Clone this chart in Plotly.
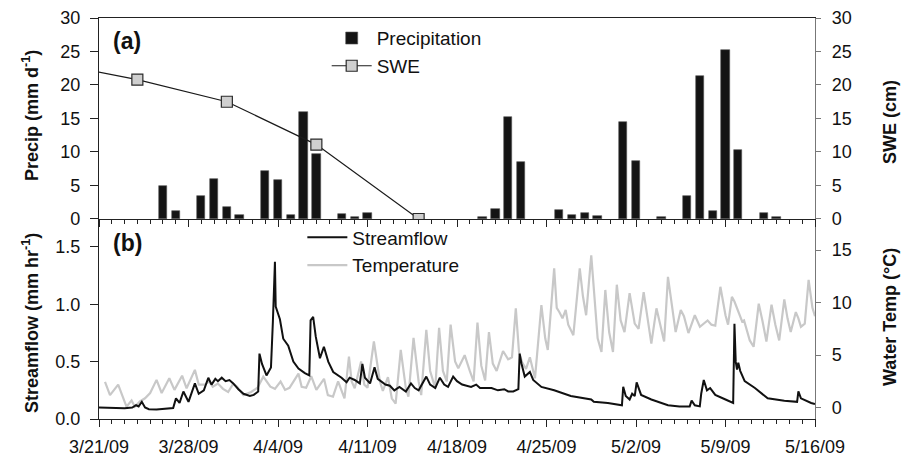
import pandas as pd
import plotly.graph_objects as go

# ---- data ----
precip_dates = ['2009-03-26', '2009-03-27', '2009-03-29', '2009-03-30', '2009-03-31', '2009-04-01',
                '2009-04-03', '2009-04-04', '2009-04-05', '2009-04-06', '2009-04-07', '2009-04-09',
                '2009-04-10', '2009-04-11', '2009-04-20', '2009-04-21', '2009-04-22', '2009-04-23',
                '2009-04-26', '2009-04-27', '2009-04-28', '2009-04-29', '2009-05-01', '2009-05-02',
                '2009-05-04', '2009-05-06', '2009-05-07', '2009-05-08', '2009-05-09', '2009-05-10',
                '2009-05-12', '2009-05-13']
precip_mm = [4.9, 1.15, 3.5, 5.9, 1.85, 0.55,
             7.1, 5.8, 0.65, 16.0, 9.7, 0.8,
             0.35, 0.95, 0.35, 1.45, 15.25, 8.45,
             1.3, 0.65, 0.95, 0.45, 14.5, 8.6,
             0.25, 3.4, 21.4, 1.15, 25.25, 10.35,
             0.9, 0.25]

swe_dates = ['2009-03-17', '2009-03-24', '2009-03-31', '2009-04-07', '2009-04-15']
swe_cm = [23.4, 20.8, 17.5, 11.1, 0.0]

# days after 3/21/09 00:00
flow_day = [0, 1.0, 2.0, 2.6, 2.9, 3.1, 3.35, 3.6, 3.9, 4.5, 5.3, 5.8, 6.02, 6.3, 6.6, 7.0, 7.5, 7.8,
            8.2, 8.55, 8.8, 9.1, 9.3, 9.6, 9.9, 10.2, 10.5, 10.9, 11.3, 11.8, 12.1, 12.45, 12.55,
            12.75, 13.1, 13.45, 13.6, 13.76, 13.82, 14.0, 14.15, 14.41, 14.8, 15.2, 15.6, 16.1,
            16.45, 16.55, 16.75, 16.95, 17.28, 17.59, 17.93, 18.32, 18.97, 19.36, 19.6, 20.0, 20.4,
            20.6, 20.8, 21.2, 21.55, 21.8, 22.4, 22.75, 23.1, 23.5, 24.0, 24.4, 24.7, 25.0, 25.6,
            25.9, 26.3, 26.66, 27.0, 27.3, 27.7, 28.0, 28.4, 29.1, 29.5, 29.8, 30.7, 31.2, 31.7,
            32.0, 32.4, 32.8, 32.9, 33.05, 33.3, 33.7, 33.96, 34.6, 35.6, 36.9, 37.5, 38.5, 38.7,
            39.8, 40.9, 41.0, 41.2, 41.5, 41.7, 41.9, 42.05, 42.4, 43.2, 44.5, 45.4, 46.2, 46.35,
            46.6, 46.99, 47.1, 47.3, 47.55, 47.8, 48.2, 49.0, 49.6, 49.7, 49.8, 49.9, 50.0, 50.15,
            50.5, 51.3, 52.3, 53.6, 54.6, 54.7, 54.9, 55.7, 56.0]
flow_mm_hr = [0.10, 0.097, 0.093, 0.10, 0.12, 0.11, 0.15, 0.10, 0.085, 0.083, 0.09, 0.095, 0.18, 0.14,
              0.24, 0.15, 0.31, 0.22, 0.25, 0.36, 0.30, 0.35, 0.33, 0.36, 0.33, 0.34, 0.31, 0.26,
              0.22, 0.20, 0.21, 0.24, 0.57, 0.48, 0.38, 0.45, 0.85, 1.37, 0.98, 0.92, 0.87, 0.70,
              0.64, 0.50, 0.44, 0.40, 0.38, 0.86, 0.89, 0.72, 0.53, 0.63, 0.50, 0.41, 0.36, 0.32,
              0.36, 0.34, 0.31, 0.48, 0.36, 0.31, 0.45, 0.35, 0.30, 0.29, 0.25, 0.28, 0.24, 0.31,
              0.27, 0.25, 0.37, 0.30, 0.27, 0.36, 0.30, 0.28, 0.37, 0.33, 0.30, 0.28, 0.30, 0.27,
              0.27, 0.25, 0.26, 0.24, 0.24, 0.26, 0.57, 0.48, 0.37, 0.41, 0.34, 0.28, 0.25, 0.20,
              0.19, 0.17, 0.15, 0.14, 0.12, 0.28, 0.20, 0.17, 0.22, 0.20, 0.32, 0.21, 0.17, 0.12,
              0.11, 0.11, 0.16, 0.12, 0.11, 0.22, 0.34, 0.25, 0.27, 0.21, 0.17, 0.14, 0.83, 0.50,
              0.43, 0.49, 0.42, 0.33, 0.27, 0.18, 0.16, 0.15, 0.24, 0.18, 0.14, 0.13]

temp_day = [0.47, 0.86, 1.5, 1.9, 2.15, 2.55, 2.8, 3.2, 3.6, 4.0, 4.5, 4.9, 5.5, 5.9, 6.5, 6.85, 7.5,
            7.8, 8.3, 8.6, 8.9, 9.3, 9.7, 10.1, 10.5, 10.8, 11.3, 11.9, 12.4, 12.85, 13.4, 13.76,
            14.2, 14.55, 14.9, 15.6, 15.85, 16.2, 16.6, 17.0, 17.6, 17.9, 18.3, 18.7, 19.2, 19.55,
            19.76, 20.0, 20.5, 20.75, 21.0, 21.5, 21.97, 22.2, 22.6, 22.9, 23.2, 23.6, 24.0, 24.2,
            24.6, 25.0, 25.2, 25.6, 25.9, 26.3, 26.6, 26.9, 27.2, 27.5, 27.85, 28.1, 28.6, 29.0,
            29.3, 29.6, 29.9, 30.2, 30.5, 30.8, 31.1, 31.6, 32.0, 32.3, 32.6, 32.85, 33.1, 33.4,
            33.7, 34.1, 34.6, 34.9, 35.1, 35.6, 35.8, 36.0, 36.25, 36.5, 36.7, 37.1, 37.6, 37.85,
            38.1, 38.5, 38.75, 39.0, 39.3, 39.6, 39.9, 40.2, 40.5, 40.8, 41.1, 41.5, 41.9, 42.2,
            42.6, 42.9, 43.2, 43.6, 43.9, 44.2, 44.5, 44.8, 45.1, 45.5, 45.75, 46.1, 46.6, 47.0,
            47.6, 47.9, 48.2, 48.6, 49.0, 49.2, 49.5, 49.7, 50.1, 50.3, 50.45, 50.9, 51.2, 51.6,
            51.9, 52.2, 52.6, 52.9, 53.2, 53.6, 53.85, 54.1, 54.5, 54.7, 54.9, 55.2, 55.5, 55.8, 56.0]
temp_c = [2.45, 1.2, 2.2, 0.9, 0.1, 0.7, 0.1, 0.6, 0.9, 1.4, 2.65, 1.4, 2.8, 1.7, 3.05, 1.85, 3.6,
          2.2, 2.2, 2.5, 2.0, 2.3, 1.8, 1.5, 2.3, 2.0, 1.2, 1.5, 1.9, 2.95, 2.0, 1.8,
          2.5, 1.7, 1.9, 3.25, 2.0, 1.9, 3.0, 1.7, 2.75, 1.2, 1.05, 2.5, 0.9, 4.85,
          2.5, 1.85, 4.4, 2.2, 1.9, 6.3, 2.5, 1.6, 2.9, 0.9, 0.4, 5.5, 1.85, 1.05,
          6.65, 2.5, 1.2, 7.4, 3.5, 1.85, 7.6, 3.5, 2.5, 7.9, 4.4, 3.75, 5.0, 3.5,
          2.5, 8.1, 4.0, 2.6, 7.2, 4.2, 3.5, 5.4, 4.6, 4.8, 9.45, 5.3, 4.3, 3.7,
          4.8, 2.8, 9.75, 6.6, 5.5, 13.25, 9.5, 9.1, 8.5, 9.3, 7.9, 6.9, 13.25, 10.6,
          8.8, 14.5, 10.1, 6.6, 5.3, 11.2, 7.2, 5.3, 11.7, 8.3, 7.2, 10.9, 8.0, 7.5,
          11.0, 8.4, 6.1, 9.45, 7.9, 6.3, 12.45, 9.8, 7.2, 9.3, 8.7, 7.1, 8.8, 7.7,
          8.3, 7.9, 7.8, 11.5, 8.8, 7.9, 10.55, 10.1, 8.8, 8.2, 8.3, 6.4, 5.8, 9.9,
          8.2, 6.3, 9.8, 7.9, 6.4, 10.3, 8.5, 7.2, 9.1, 8.5, 7.7, 8.0, 12.15, 9.5, 8.7]

x_start, x_end = '2009-03-21', '2009-05-16'

t0 = pd.Timestamp(x_start)
flow_time = t0 + pd.to_timedelta(flow_day, unit='D')
temp_time = t0 + pd.to_timedelta(temp_day, unit='D')

DAY_MS = 86400000
FONT = 'Liberation Sans, Arial, sans-serif'

fig = go.Figure()

# panel (a)
fig.add_trace(go.Bar(x=precip_dates, y=precip_mm, name='Precipitation', width=0.65 * DAY_MS,
                     marker=dict(color='#141414', line=dict(color='#555555', width=0.6)),
                     xaxis='x2', yaxis='y3', legend='legend'))
fig.add_trace(go.Scatter(x=swe_dates, y=swe_cm, name='SWE', mode='lines+markers',
                         line=dict(color='#1a1a1a', width=1.2),
                         marker=dict(symbol='square', size=11, color='#cfcfcf',
                                     line=dict(color='#2a2a2a', width=1.2)),
                         xaxis='x2', yaxis='y4', legend='legend'))

# panel (b)
fig.add_trace(go.Scatter(x=temp_time, y=temp_c, name='Temperature', mode='lines',
                         line=dict(color='#c8c8c8', width=2.2), legendrank=2,
                         xaxis='x', yaxis='y', legend='legend2'))
fig.add_trace(go.Scatter(x=flow_time, y=flow_mm_hr, name='Streamflow', mode='lines',
                         line=dict(color='#111111', width=2), legendrank=1,
                         xaxis='x', yaxis='y2', legend='legend2'))

xcommon = dict(type='date', range=[x_start, x_end], showgrid=False, showline=True, automargin=False,
               linecolor='#222222', linewidth=1.2, ticks='outside', ticklen=7, tickcolor='#222222',
               tick0=x_start, dtick=7 * DAY_MS, ticklabelstandoff=4,
               minor=dict(dtick=DAY_MS, ticks='outside', ticklen=4, tickcolor='#222222', showgrid=False))

left_y = dict(side='left', showgrid=False, zeroline=False, showline=True, automargin=False,
              linecolor='#222222', linewidth=1.2, ticks='outside', ticklen=8, tickcolor='#222222',
              ticklabelstandoff=6)
right_y = dict(side='right', showgrid=False, zeroline=False, showline=True, automargin=False,
               linecolor='#777777', linewidth=1.2, ticks='outside', ticklen=5, tickcolor='#777777',
               ticklabelstandoff=7)

fig.update_layout(
    width=912, height=459,
    margin=dict(l=99, r=97, t=18, b=40, autoexpand=False),
    paper_bgcolor='white', plot_bgcolor='white',
    font=dict(family=FONT, size=18, color='#111111'),
    bargap=0,
    xaxis=dict(**xcommon, anchor='y', domain=[0, 1], tickformat='%-m/%-d/%y'),
    xaxis2=dict(**xcommon, anchor='y3', matches='x', showticklabels=False, mirror=True),
    # panel (b) axes: temperature right, streamflow left (drawn on top)
    yaxis=dict(**right_y, domain=[0, 0.4988], anchor='x', range=[-1.07, 17.95],
               tickvals=[0, 5, 10, 15]),
    yaxis2=dict(**left_y, overlaying='y', anchor='x', range=[0, 1.744],
                tickvals=[0, 0.5, 1.0, 1.5], tickformat='.1f'),
    # panel (a) axes
    yaxis3=dict(**left_y, domain=[0.4988, 1], anchor='x2', range=[0, 30], dtick=5),
    yaxis4=dict(**right_y, overlaying='y3', anchor='x2', range=[0, 30], dtick=5),
    legend=dict(x=0.318, y=0.997, xanchor='left', yanchor='top', bgcolor='rgba(0,0,0,0)',
                font=dict(size=19), itemwidth=40, tracegroupgap=0),
    legend2=dict(x=0.284, y=0.50, xanchor='left', yanchor='top', bgcolor='rgba(0,0,0,0)',
                 font=dict(size=19), itemwidth=40, tracegroupgap=0),
)

annotations = [
    dict(text='<b>(a)</b>', x=126.5, y=41, size=23),
    dict(text='<b>(b)</b>', x=127.5, y=243, size=23),
    dict(text='<b>Precip (mm d<sup>-1</sup>)</b>', x=30, y=116, size=18, angle=-90),
    dict(text='<b>Streamflow (mm hr<sup>-1</sup>)</b>', x=30, y=323, size=18, angle=-90),
    dict(text='<b>SWE (cm)</b>', x=890, y=122, size=18, angle=-90),
    dict(text='<b>Water Temp (°C)</b>', x=890, y=317, size=18, angle=-90),
]
for a in annotations:
    fig.add_annotation(text=a['text'], xref='paper', yref='paper',
                       x=(a['x'] - 99) / 716, y=(419 - a['y']) / 401,
                       xanchor='center', yanchor='middle', showarrow=False,
                       textangle=a.get('angle', 0), font=dict(size=a['size'], family=FONT))

fig.write_html("out.html", config={'displayModeBar': False},
               post_script="document.body.style.margin='0px';")
